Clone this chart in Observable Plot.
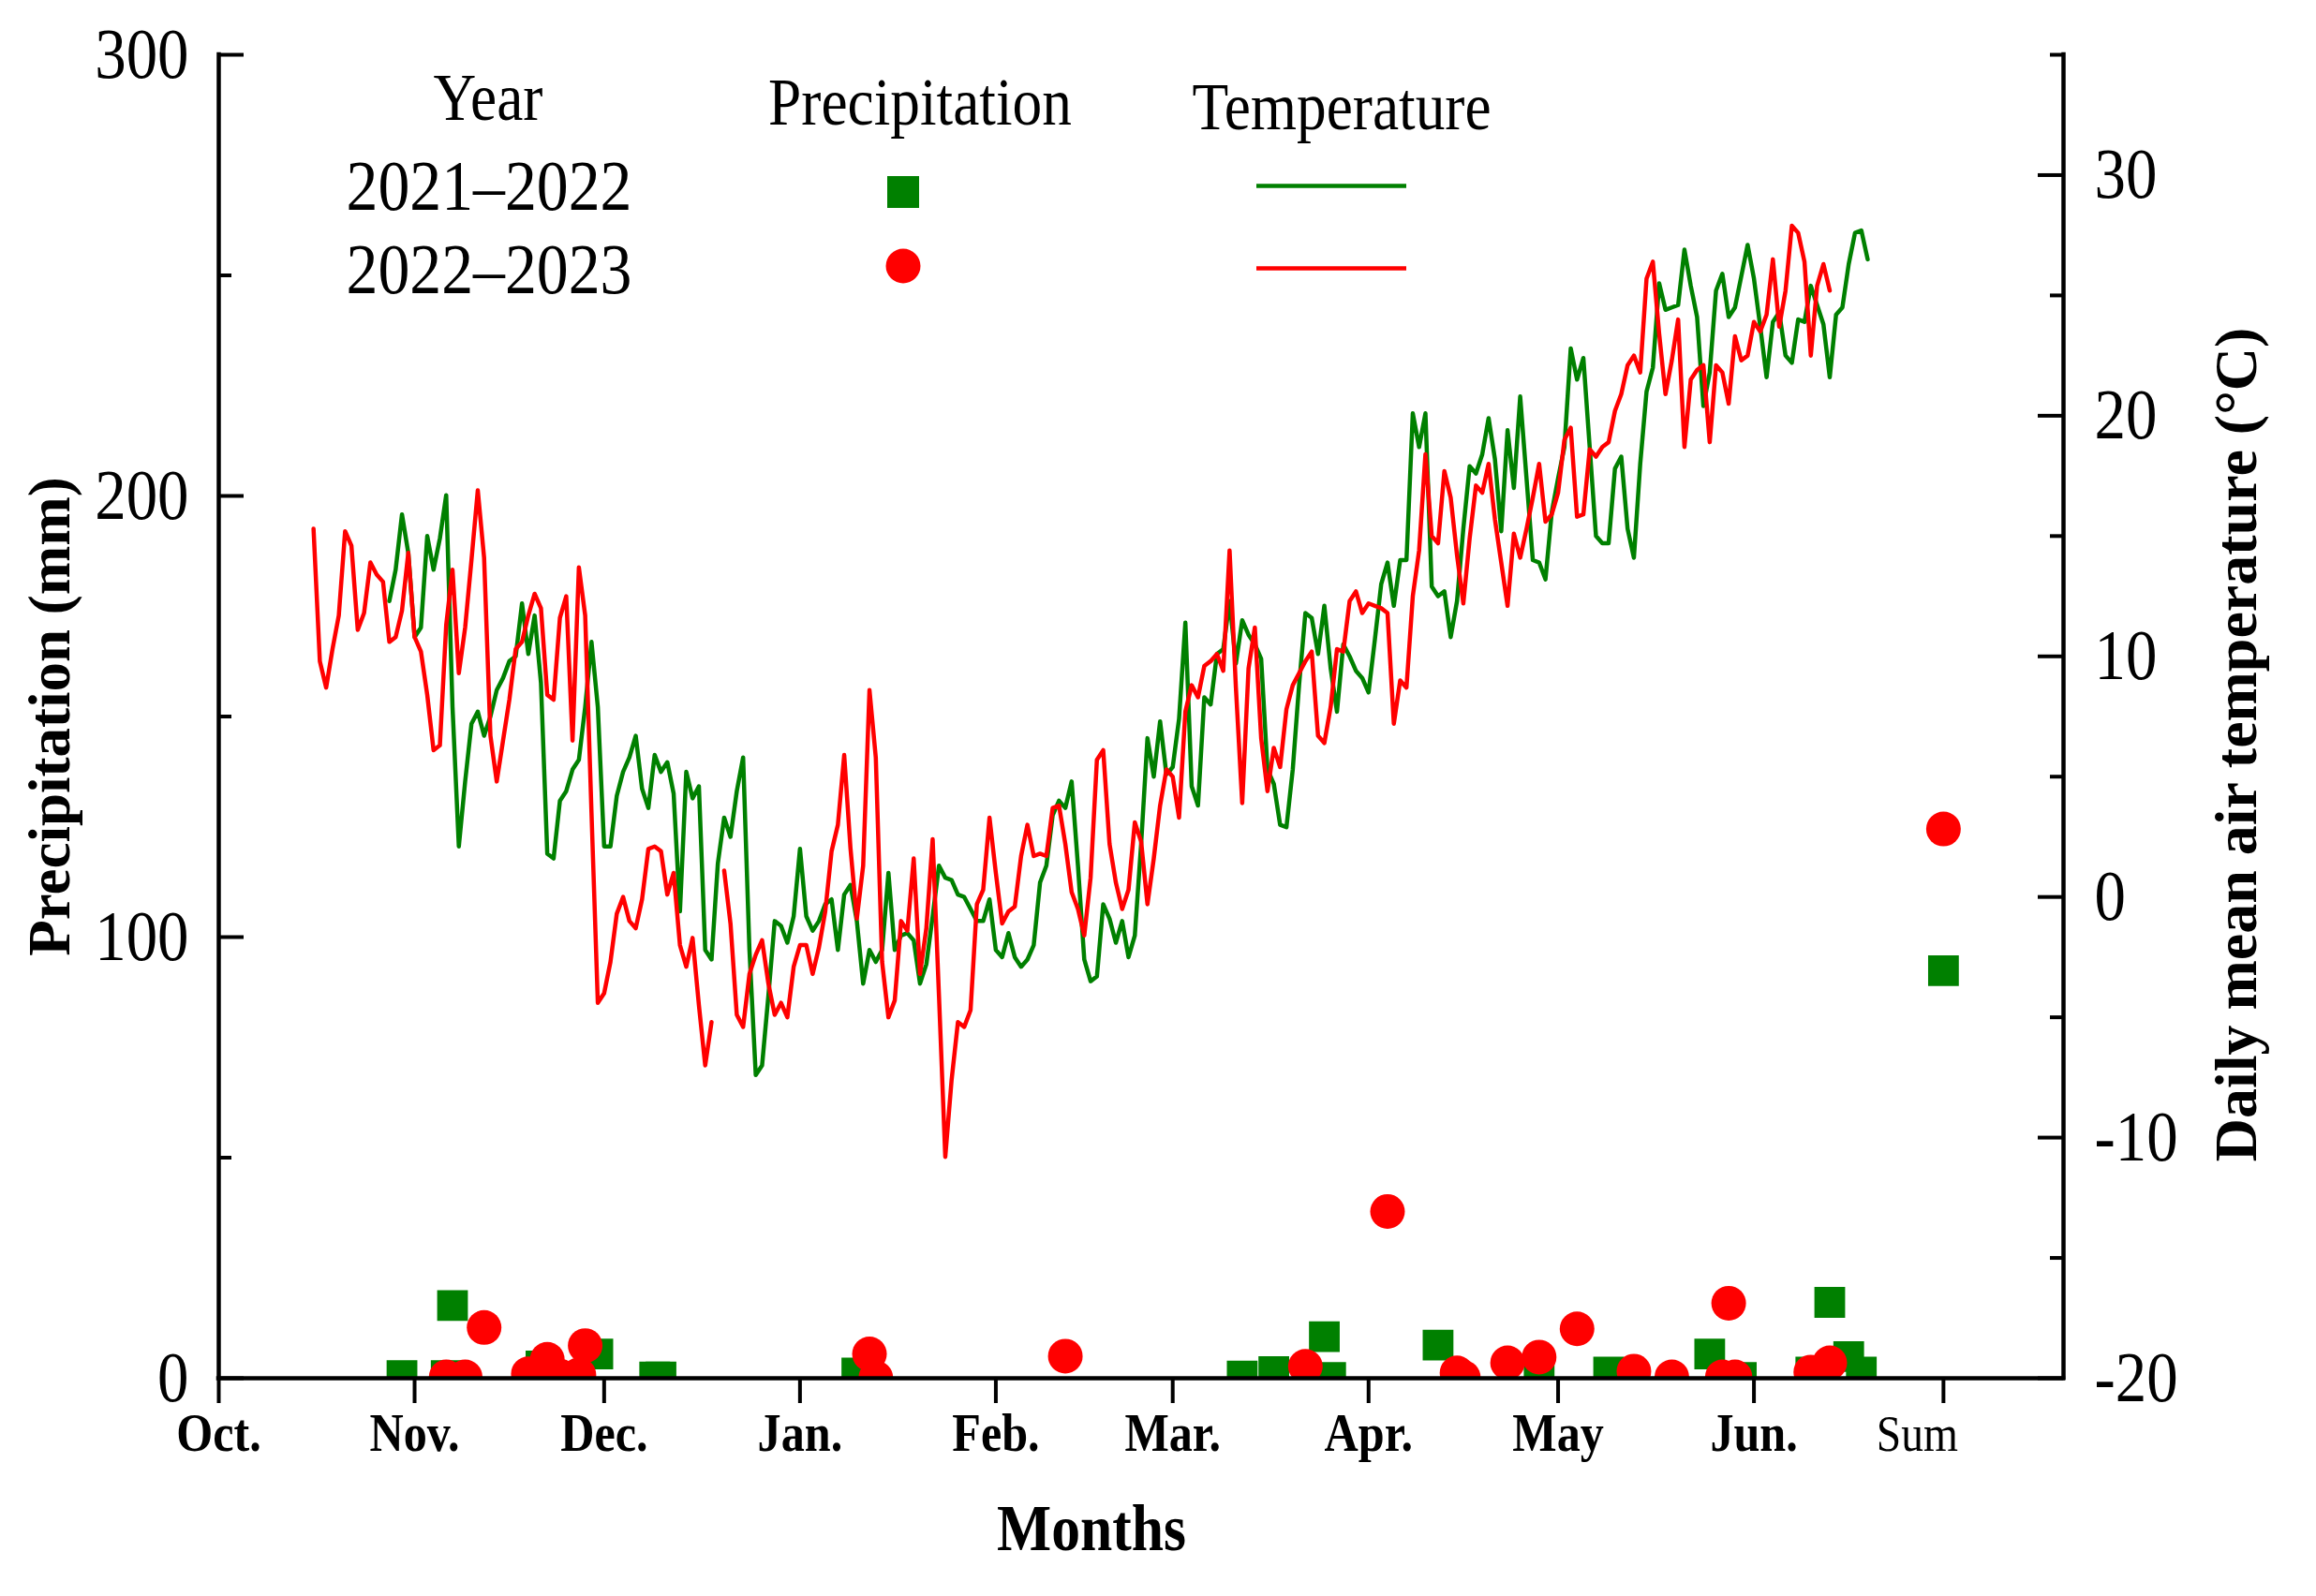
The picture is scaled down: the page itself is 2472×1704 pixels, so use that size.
<!DOCTYPE html>
<html>
<head>
<meta charset="utf-8">
<script src="https://cdn.jsdelivr.net/npm/d3@7"></script>
<script src="https://cdn.jsdelivr.net/npm/@observablehq/plot@0.6"></script>
<style>
  body { margin: 0; background: #fff; }
  #chart svg { display: block; }
</style>
</head>
<body>
<div id="chart"></div>
<script>
// x axis: days since 1 Oct, month starts + the "Sum" column
const monthDays = [0, 31, 61, 92, 123, 151, 182, 212, 243]
const monthLabels = ["Oct.", "Nov.", "Dec.", "Jan.", "Feb.", "Mar.", "Apr.", "May", "Jun."]
const sumDay = 273
const sumLabel = "Sum"

// y axes
const precipTicks = [0, 100, 200, 300]
const precipMinor = [50, 150, 250]
const tempTicks = [-20, -10, 0, 10, 20, 30]
const tempMinor = [-15, -5, 5, 15, 25, 35]

const years = ["2021\u20132022", "2022\u20132023"]

// daily mean air temperature (°C), one value per day from the start day
const temp2122Start = 27
const temp2122 = [
  12.3, 13.6, 15.9, 14.3, 10.8, 11.2, 15.0, 13.6, 14.9, 16.7,
  7.9, 2.1, 4.8, 7.2, 7.7, 6.7, 7.5, 8.6, 9.1, 9.8,
  10.0, 12.2, 10.1, 11.7, 8.9, 1.8, 1.6, 4.0, 4.4, 5.3,
  5.7, 7.9, 10.6, 7.9, 2.1, 2.1, 4.2, 5.2, 5.8, 6.7,
  4.5, 3.7, 5.9, 5.2, 5.6, 4.3, -0.6, 5.2, 4.1, 4.6,
  -2.2, -2.6, 1.4, 3.3, 2.5, 4.4, 5.8, -2.2, -7.4, -7.0,
  -4.1, -1.0, -1.2, -1.9, -0.8, 2.0, -0.8, -1.4, -1.0, -0.3,
  -0.1, -2.2, 0.1, 0.5, -1.0, -3.6, -2.2, -2.7, -2.2, 1.0,
  -2.2, -1.6, -1.5, -1.8, -3.6, -2.8, -0.8, 1.3, 0.8, 0.7,
  0.1, 0.0, -0.5, -1.0, -1.0, -0.1, -2.2, -2.5, -1.5, -2.5,
  -2.9, -2.6, -2.0, 0.6, 1.3, 3.4, 4.0, 3.7, 4.8, 1.3,
  -2.6, -3.5, -3.3, -0.3, -0.9, -1.9, -1.0, -2.5, -1.6, 2.2,
  6.6, 5.0, 7.3, 5.1, 5.4, 7.4, 11.4, 4.6, 3.8, 8.3,
  8.0, 10.1, 10.3, 12.3, 9.7, 11.5, 10.9, 10.5, 9.9, 5.3,
  4.7, 3.0, 2.9, 5.3, 8.8, 11.8, 11.6, 10.1, 12.1, 9.5,
  7.7, 10.5, 10.0, 9.4, 9.1, 8.5, 10.7, 13.0, 13.9, 12.1,
  14.0, 14.0, 20.1, 18.7, 20.1, 12.9, 12.5, 12.7, 10.8, 12.3,
  15.3, 17.9, 17.6, 18.4, 19.9, 18.2, 15.2, 19.4, 17.0, 20.8,
  17.4, 14.0, 13.9, 13.2, 16.0, 17.4, 18.7, 22.8, 21.5, 22.4,
  18.7, 15.0, 14.7, 14.7, 17.8, 18.3, 15.3, 14.1, 18.0, 21.0,
  22.0, 25.5, 24.4, 24.5, 24.6, 26.9, 25.4, 24.1, 20.4, 21.8,
  25.2, 25.9, 24.1, 24.5, 25.8, 27.1, 25.7, 23.7, 21.6, 23.9,
  24.3, 22.5, 22.2, 24.0, 23.9, 25.4, 24.6, 23.8, 21.6, 24.2,
  24.5, 26.3, 27.6, 27.7, 26.5
]
const temp2223Start = 15
const temp2223 = [
  15.3, 9.8, 8.7, 10.3, 11.7, 15.2, 14.6, 11.1, 11.8, 13.9,
  13.4, 13.1, 10.6, 10.8, 11.9, 14.3, 10.8, 10.2, 8.4, 6.1,
  6.3, 11.3, 13.6, 9.3, 11.2, 14.0, 16.9, 14.1, 6.7, 4.8,
  6.5, 8.2, 10.3, 10.6, 11.7, 12.6, 12.0, 8.4, 8.2, 11.6,
  12.5, 6.5, 13.7, 11.7, 3.5, -4.4, -4.0, -2.7, -0.7, 0.0,
  -1.0, -1.3, -0.1, 2.0, 2.1, 1.9, 0.1, 1.0, -2.0, -2.9,
  -1.7, -4.5, -7.0, -5.2, NaN, 1.1, -1.1, -4.9, -5.4, -3.2,
  -2.4, -1.8, -3.6, -4.9, -4.4, -5.0, -2.9, -2.0, -2.0, -3.2,
  -2.1, -0.6, 1.9, 3.0, 5.9, 2.0, -0.9, 1.3, 8.6, 5.8,
  -2.7, -5.0, -4.3, -1.0, -1.4, 1.6, -3.2, -1.3, 2.4, -4.1,
  -10.8, -7.6, -5.2, -5.4, -4.7, -0.3, 0.3, 3.3, 1.0, -1.1,
  -0.6, -0.4, 1.7, 3.0, 1.7, 1.8, 1.7, 3.7, 3.8, 2.2,
  0.2, -0.5, -1.6, 0.8, 5.7, 6.1, 2.2, 0.6, -0.5, 0.3,
  3.1, 2.3, -0.3, 1.6, 3.8, 5.3, 5.0, 3.3, 7.7, 8.8,
  8.3, 9.6, 9.8, 10.1, 9.4, 14.4, 8.7, 3.9, 9.5, 11.2,
  6.6, 4.4, 6.2, 5.4, 7.8, 8.8, 9.3, 9.8, 10.2, 6.7,
  6.4, 7.9, 10.3, 10.2, 12.3, 12.7, 11.8, 12.2, 12.1, 12.0,
  11.8, 7.2, 9.0, 8.7, 12.5, 14.4, 18.4, 15.0, 14.7, 17.7,
  16.6, 14.2, 12.2, 14.9, 17.1, 16.8, 18.0, 15.7, 13.9, 12.1,
  15.1, 14.1, 15.3, 16.6, 18.0, 15.6, 15.9, 16.8, 19.0, 19.5,
  15.8, 15.9, 18.6, 18.3, 18.7, 18.9, 20.2, 20.9, 22.1, 22.5,
  21.8, 25.7, 26.4, 23.4, 20.9, 22.3, 24.0, 18.7, 21.5, 21.9,
  22.1, 18.9, 22.1, 21.8, 20.5, 23.3, 22.3, 22.5, 23.9, 23.5,
  24.2, 26.5, 23.7, 25.2, 27.9, 27.6, 26.4, 22.5, 25.4, 26.3,
  25.2
]

// precipitation events (mm)
const rain2122Days = [29, 36, 37, 51, 60, 69, 70, 101, 162, 167, 175, 176, 193, 209, 220, 236, 241, 252, 255, 258, 260]
const rain2122 = [0.6, 0.6, 16.5, 2.8, 5.5, 0.3, 0.3, 1.2, 0.5, 1.5, 9.4, 0.2, 7.5, 0.3, 1.4, 5.5, 0.2, 1.4, 17.2, 4.9, 1.4]
const rain2223Days = [36, 39, 42, 49, 52, 54, 57, 58, 103, 104, 134, 172, 185, 196, 197, 204, 209, 215, 224, 230, 238, 239, 240, 252, 255]
const rain2223 = [0.3, 0.3, 11.5, 1.0, 4.3, 0.5, 0.8, 7.4, 5.5, 0.1, 5.0, 2.7, 37.8, 1.2, 0.2, 3.5, 4.8, 11.2, 1.6, 0.3, 0.3, 17.0, 0.3, 1.4, 3.5]
const sum2122 = 92.4
const sum2223 = 124.5

const green = "#008000"
const red = "#ff0000"
const font = "'Liberation Serif', 'Times New Roman', serif"
// the original lettering is a narrow Times; squeeze upright text to this share of its width
const condense = 0.88

// temperature axis (-20..35) laid over the precipitation axis (0..300)
const toMm = t => (t + 20) * 300 / 55

const W = 2472, H = 1704
const mL = 233, mR = 270, mT = 58, mB = 233
const plotW = W - mL - mR, plotH = H - mT - mB

const t2122 = temp2122.map((t, i) => ({day: temp2122Start + i, t}))
const t2223 = temp2223.map((t, i) => ({day: temp2223Start + i, t}))
const p2122 = rain2122Days.map((d, i) => ({day: d, mm: rain2122[i]})).concat([{day: sumDay, mm: sum2122}])
const p2223 = rain2223Days.map((d, i) => ({day: d, mm: rain2223[i]})).concat([{day: sumDay, mm: sum2223}])

let chart = Plot.plot({
  width: W,
  height: H,
  marginLeft: mL,
  marginRight: mR,
  marginTop: mT,
  marginBottom: mB,
  x: {domain: [0, 292], axis: null},
  y: {domain: [0, 300], axis: null},
  style: {fontFamily: font, background: "white", color: "black"},
  marks: [
    Plot.line(t2122, {x: "day", y: d => toMm(d.t), stroke: green, strokeWidth: 4.5}),
    Plot.line(t2223, {x: "day", y: d => toMm(d.t), stroke: red, strokeWidth: 4.5}),
    Plot.dot(p2122, {x: "day", y: "mm", symbol: "square", r: 18.5, fill: green, stroke: "none", clip: true}),
    Plot.dot(p2223, {x: "day", y: "mm", symbol: "circle", r: 18.5, fill: red, stroke: "none", clip: true}),

    // frame: left, right and bottom axis lines
    Plot.ruleX([0, 292], {strokeWidth: 4.5, strokeLinecap: "square"}),
    Plot.ruleY([0], {strokeWidth: 4.5, strokeLinecap: "square"}),

    // inward ticks on both y axes
    Plot.tickY(precipTicks, {y: d => d, insetRight: plotW - 27, strokeWidth: 4}),
    Plot.tickY(precipMinor, {y: d => d, insetRight: plotW - 14, strokeWidth: 4}),
    Plot.tickY(tempTicks, {y: toMm, insetLeft: plotW - 27, strokeWidth: 4}),
    Plot.tickY(tempMinor, {y: toMm, insetLeft: plotW - 14, strokeWidth: 4}),
    // outward ticks on x
    Plot.tickX(monthDays.concat([sumDay]), {x: d => d, insetTop: plotH, insetBottom: -27, strokeWidth: 4}),

    // tick labels
    Plot.text(precipTicks, {y: d => d, text: d => String(d), frameAnchor: "left", textAnchor: "end", dx: -32, fontSize: 76}),
    Plot.text(tempTicks, {y: toMm, text: d => d < 0 ? "-" + (-d) : String(d), frameAnchor: "right", textAnchor: "start", dx: 33, fontSize: 76}),
    Plot.text(monthDays, {x: d => d, text: (d, i) => monthLabels[i], frameAnchor: "bottom", lineAnchor: "bottom", dy: 77, fontSize: 57, fontWeight: "bold"}),
    Plot.text([sumDay], {x: d => d, text: () => sumLabel, frameAnchor: "bottom", lineAnchor: "bottom", dy: 77, dx: -28, fontSize: 54})
  ]
})

d3.select('#chart').append(() => chart)

const svg = d3.select(chart)

// axis titles
svg.append("text")
  .attr("transform", "translate(74,765) rotate(-90)")
  .attr("text-anchor", "middle")
  .attr("font-family", font).attr("font-weight", "bold").attr("font-size", 63)
  .text("Precipitation (mm)")
svg.append("text")
  .attr("transform", "translate(2408,795) rotate(-90)")
  .attr("text-anchor", "middle")
  .attr("font-family", font).attr("font-weight", "bold").attr("font-size", 64)
  .text("Daily mean air temperature (\u00B0C)")
svg.append("text")
  .attr("x", 1165).attr("y", 1655)
  .attr("text-anchor", "middle")
  .attr("font-family", font).attr("font-weight", "bold").attr("font-size", 70)
  .text("Months")

// legend table
const lg = svg.append("g").attr("font-family", font).attr("text-anchor", "middle")
lg.append("text").attr("x", 521).attr("y", 128).attr("font-size", 72).text("Year")
lg.append("text").attr("x", 982).attr("y", 133).attr("font-size", 72).text("Precipitation")
lg.append("text").attr("x", 1432).attr("y", 138).attr("font-size", 72).text("Temperature")
lg.append("text").attr("x", 522).attr("y", 224).attr("font-size", 77).text(years[0])
lg.append("text").attr("x", 522).attr("y", 313).attr("font-size", 77).text(years[1])
lg.append("rect").attr("x", 947).attr("y", 188).attr("width", 34).attr("height", 34).attr("fill", green)
lg.append("circle").attr("cx", 964).attr("cy", 284).attr("r", 18.5).attr("fill", red)
lg.append("line").attr("x1", 1341).attr("x2", 1501).attr("y1", 198.5).attr("y2", 198.5)
  .attr("stroke", green).attr("stroke-width", 4.5)
lg.append("line").attr("x1", 1341).attr("x2", 1501).attr("y1", 286.5).attr("y2", 286.5)
  .attr("stroke", red).attr("stroke-width", 4.5)

// narrow the upright lettering (rotated axis titles are left as they are)
svg.selectAll("text").each(function () {
  if ((this.getAttribute("transform") || "").includes("rotate")) return
  const len = this.getComputedTextLength()
  if (len > 0) {
    this.setAttribute("textLength", len * condense)
    this.setAttribute("lengthAdjust", "spacingAndGlyphs")
  }
})
</script>
</body>
</html>
